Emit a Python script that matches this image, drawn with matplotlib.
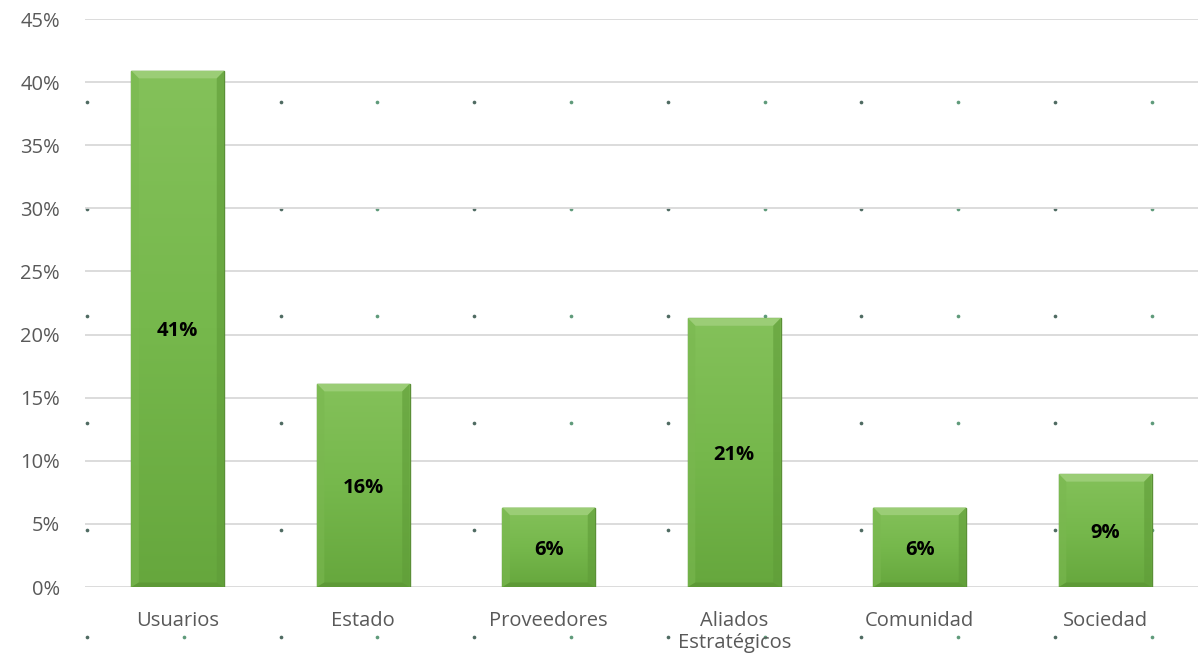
import numpy as np
import matplotlib
matplotlib.use('Agg')
import matplotlib.pyplot as plt
from matplotlib.colors import LinearSegmentedColormap
from matplotlib.patches import Polygon

plt.rcParams['font.family'] = ['Open Sans', 'DejaVu Sans']

# datos
categorias = ['Usuarios', 'Estado', 'Proveedores', 'Aliados\nEstratégicos', 'Comunidad', 'Sociedad']
valores = [40.9, 16.1, 6.3, 21.3, 6.3, 8.95]
etiquetas = ['41%', '16%', '6%', '21%', '6%', '9%']

fig = plt.figure(figsize=(11.98, 6.57), dpi=100)

# puntos decorativos del fondo (ejes de fondo en pixeles)
fondo = fig.add_axes([0, 0, 1, 1], zorder=0)
fondo.set_xlim(0, 1198)
fondo.set_ylim(657, 0)
fondo.axis('off')
px = np.arange(87, 1198, 96.8)
py = np.arange(102, 657, 107)
for i, xx in enumerate(px):
    col = '#4f6b62' if i % 2 == 0 else '#5f9a7a'
    fondo.scatter([xx] * len(py), py, s=7, color=col, linewidths=0)

ax = fig.add_axes([0.071, 0.1065, 0.929, 0.8645], zorder=1)

x = np.arange(len(categorias))
ancho = 0.5
barras = ax.bar(x, valores, width=ancho, color='#72b347', edgecolor='#5b8f37',
                linewidth=1.0, zorder=3)

# degradado y bisel de cada barra
cmap = LinearSegmentedColormap.from_list('verde', ['#66a73d', '#76b84c', '#84c15a'])
grad = np.linspace(0, 1, 256).reshape(-1, 1)
for b in barras:
    x0, w, h = b.get_x(), b.get_width(), b.get_height()
    im = ax.imshow(grad, cmap=cmap, aspect='auto', origin='lower',
                   extent=(x0, x0 + w, 0, h), zorder=3)
    im.set_clip_path(b)
    dx = 0.04
    dy = 0.6
    top = Polygon([[x0, h], [x0 + w, h], [x0 + w - dx, h - dy], [x0 + dx, h - dy]],
                  closed=True, facecolor='#9bcd76', edgecolor='none', zorder=4)
    ax.add_patch(top)
    izq = Polygon([[x0, 0], [x0, h], [x0 + dx, h - dy], [x0 + dx, dy * 0.6]],
                  closed=True, facecolor='#7ab850', edgecolor='none', alpha=0.6, zorder=4)
    ax.add_patch(izq)
    der = Polygon([[x0 + w, 0], [x0 + w, h], [x0 + w - dx, h - dy], [x0 + w - dx, dy * 0.6]],
                  closed=True, facecolor='#5f9c38', edgecolor='none', alpha=0.6, zorder=4)
    ax.add_patch(der)
    bot = Polygon([[x0, 0], [x0 + w, 0], [x0 + w - dx, dy * 0.6], [x0 + dx, dy * 0.6]],
                  closed=True, facecolor='#5a9434', edgecolor='none', alpha=0.7, zorder=4)
    ax.add_patch(bot)
    ax.add_patch(Polygon(b.get_verts(), closed=True, facecolor='none',
                         edgecolor='#5b8f37', linewidth=1.0, zorder=5))

for xi, v, t in zip(x, valores, etiquetas):
    ax.text(xi, v / 2, t, ha='center', va='center_baseline', fontsize=14.5,
            fontweight='bold', color='black', zorder=6)

ax.set_xlim(-0.5, 5.5)
ax.set_ylim(0, 45)
ax.set_yticks(np.arange(0, 46, 5))
ax.set_yticklabels([f'{v}%' for v in range(0, 46, 5)])
ax.set_xticks(x)
ax.set_xticklabels(categorias, linespacing=1.15)
ax.tick_params(axis='both', length=0, labelsize=14.5, labelcolor='#595959')
ax.tick_params(axis='x', pad=17)
ax.tick_params(axis='y', pad=18)
ax.yaxis.grid(True, color='#d9d9d9', linewidth=1.3, zorder=0)
ax.set_axisbelow(True)
for s in ax.spines.values():
    s.set_visible(False)
ax.set_facecolor('none')

fig.savefig('out.png', dpi=100)
